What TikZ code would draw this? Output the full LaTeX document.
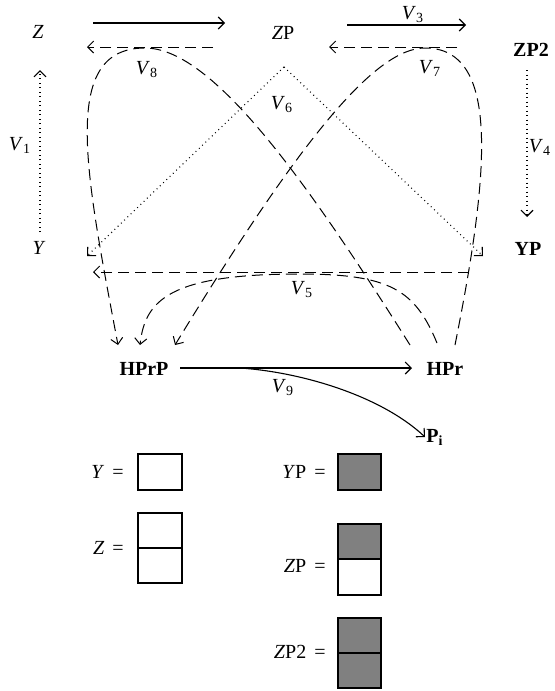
\documentclass[tikz,border=0pt]{standalone}
\usepackage{fontspec}
\setmainfont{Liberation Serif}
\usetikzlibrary{arrows.meta}
\newcommand{\vlab}[1]{\textit{V}\textsubscript{#1}}
\begin{document}
\begin{tikzpicture}[x=0.5pt,y=-0.5pt,
  every node/.style={inner sep=0pt, font=\fontsize{10}{12}\selectfont},
  bn/.style={font=\bfseries\fontsize{10}{12}\selectfont},
  arr/.style={-{Straight Barb[length=3pt,width=6pt]}},
  dsh/.style={dash pattern=on 5.5pt off 3pt, line width=0.5pt},
  dtd/.style={dash pattern=on 0.45pt off 1.8pt, line width=0.55pt},
  sld/.style={line width=0.55pt},
  box/.style={draw, line width=0.75pt},
  gbox/.style={draw, line width=0.75pt, fill=black!50}]
\useasboundingbox (0,0) rectangle (554,691);
% nodes
\node (Z) at (38,32) {\textit{Z}};
\node (ZP) at (283,33) {\textit{Z}P};
\node[bn] (ZP2) at (531,50) {ZP2};
\node (Y) at (39,248) {\textit{Y}};
\node[bn] (YP) at (528,249) {YP};
\node[bn] (HPrP) at (144,369) {HPrP};
\node[bn] (HPr) at (445,369) {HPr};
\node[bn, anchor=west] (Pi) at (426,437) {P\textsubscript{i}};
% coordinates
\coordinate (a1) at (93,23);  \coordinate (a2) at (225,23);
\coordinate (b1) at (213,47); \coordinate (b2) at (87,47);
\coordinate (c1) at (347,25); \coordinate (c2) at (466,25);
\coordinate (d1) at (457,47); \coordinate (d2) at (329,47);
\coordinate (v1s) at (40,232); \coordinate (v1e) at (40,70);
\coordinate (v4s) at (527,70); \coordinate (v4e) at (527,217);
\coordinate (apex) at (284,67); \coordinate (v6l) at (87,256); \coordinate (v6r) at (483,256);
\coordinate (v5s) at (469,272); \coordinate (v5e) at (93,272);
\coordinate (l8s) at (410,345); \coordinate (l8p) at (145,48); \coordinate (l8e) at (118,345);
\coordinate (l7s) at (455,345); \coordinate (l7p) at (425,48); \coordinate (l7e) at (175,345);
\coordinate (c5s) at (437,343); \coordinate (c5m) at (300,274); \coordinate (c5e) at (140,345);
\coordinate (h1) at (180,368); \coordinate (h2) at (412,368);
\coordinate (q) at (240,368); \coordinate (pt) at (425,437);
% top arrows
\draw[sld, arr] (a1) -- (a2);
\draw[dsh, arr] (b1) -- (b2);
\draw[sld, arr] (c1) -- (c2);
\draw[dsh, arr] (d1) -- (d2);
% dotted
\draw[dtd, arr] (v1s) -- (v1e);
\draw[dtd, arr] (v4s) -- (v4e);
\draw[dtd, arr] (apex) -- (v6l);
\draw[dtd, arr] (apex) -- (v6r);
% V5 line
\draw[dsh, arr] (v5s) -- (v5e);
% loops
\draw[dsh, arr] (l8s) .. controls (300,170) and (210,48) .. (l8p)
  .. controls (60,48) and (85,170) .. (l8e);
\draw[dsh, arr] (l7s) .. controls (490,170) and (500,48) .. (l7p)
  .. controls (375,48) and (300,140) .. (l7e);
\draw[dsh, arr] (c5s) .. controls (415,290) and (390,274) .. (c5m)
  .. controls (170,274) and (145,300) .. (c5e);
% bottom
\draw[sld, arr] (h1) -- (h2);
\draw[sld, arr] (q) .. controls (300,372) and (380,395) .. (pt);
% labels
\node (L8) at (147,70) {\vlab{8}};
\node (L7) at (430,68) {\vlab{7}};
\node (L3) at (413,15) {\vlab{3}};
\node (L6) at (282,105) {\vlab{6}};
\node (L1) at (20,145) {\vlab{1}};
\node (L4) at (540,147) {\vlab{4}};
\node (L5) at (302,290) {\vlab{5}};
\node (L9) at (283,388) {\vlab{9}};
% legend
\node[anchor=east] (lY) at (124,472) {\textit{Y}\hspace{0.4em}=};
\draw[box] (138,454) rectangle (182,490);
\node[anchor=east] (lZ) at (124,548) {\textit{Z}\hspace{0.4em}=};
\draw[box] (138,513) rectangle (182,583);
\draw[box] (138,548) -- (182,548);
\node[anchor=east] (lYP) at (326,472) {\textit{Y}P\hspace{0.4em}=};
\draw[gbox] (338,454) rectangle (381,490);
\node[anchor=east] (lZP) at (326,566) {\textit{Z}P\hspace{0.4em}=};
\draw[gbox] (338,524) rectangle (381,559);
\draw[box] (338,559) rectangle (381,595);
\node[anchor=east] (lZP2) at (326,652) {\textit{Z}P2\hspace{0.4em}=};
\draw[gbox] (338,618) rectangle (381,653);
\draw[gbox] (338,653) rectangle (381,688);
\end{tikzpicture}
\end{document}
